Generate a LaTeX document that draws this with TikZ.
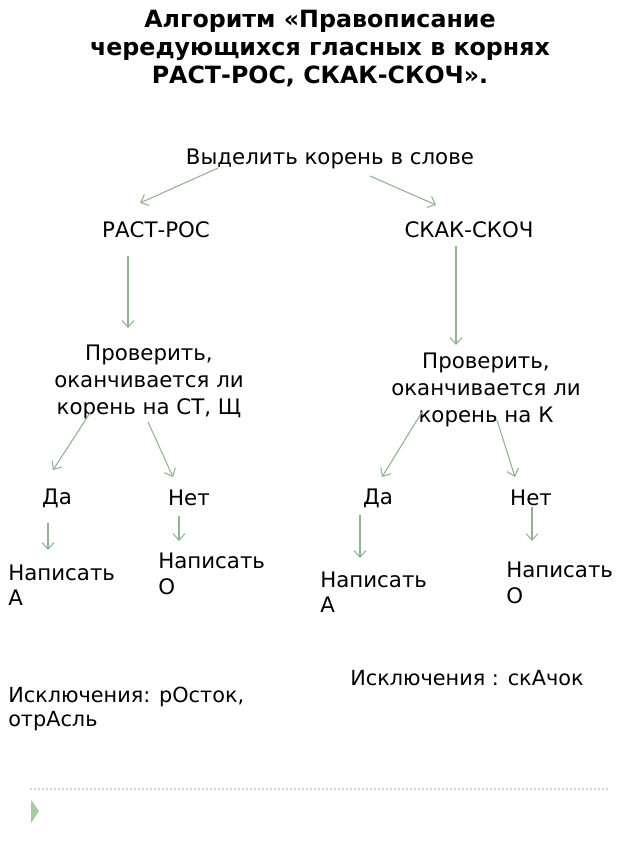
\documentclass[tikz,border=0pt]{standalone}
\usepackage{fontspec}
\setmainfont{DejaVu Sans}
\usetikzlibrary{arrows.meta}
\definecolor{arrgreen}{HTML}{8FB48F}
\definecolor{dotgreen}{HTML}{C8DCC8}
\definecolor{trigreen}{HTML}{A9C9A4}
\begin{document}
\begin{tikzpicture}[x=0.75pt,y=-0.75pt,
  txt/.style={inner sep=0pt,font=\fontsize{16}{20}\selectfont,align=center},
  txtl/.style={inner sep=0pt,font=\fontsize{16}{19}\selectfont,align=left,anchor=west},
  extxt/.style={inner sep=0pt,font=\fontsize{15.6}{18}\selectfont,align=left,anchor=west},
  arr/.style={draw=arrgreen,line width=0.8pt,-{Straight Barb[length=5pt,width=9pt]}}]
\useasboundingbox[fill=white] (0,0) rectangle (640,853);
\node[inner sep=0pt,font=\bfseries\fontsize{17.8}{21}\selectfont,align=center] (title) at (320,49)
  {Алгоритм «Правописание\\чередующихся гласных в корнях\\РАСТ-РОС, СКАК-СКОЧ».};
\node[txt] (root) at (330,159) {Выделить корень в слове};
\node[txt] (rast) at (156,230) {РАСТ-РОС};
\node[txt] (skak) at (469,230) {СКАК-СКОЧ};
\node[txt] (chk1) at (149,382) {Проверить,\\оканчивается ли\\корень на СТ, Щ};
\node[txt] (chk2) at (486,390) {Проверить,\\оканчивается ли\\корень на К};
\node[txt] (da1) at (57,498) {Да};
\node[txt] (net1) at (189,498) {Нет};
\node[txt] (da2) at (378,498) {Да};
\node[txt] (net2) at (531,498) {Нет};
\node[txtl] (wa1) at (8,585) {Написать\\А};
\node[txtl] (wo1) at (158,574) {Написать\\О};
\node[txtl] (wa2) at (320,592) {Написать\\А};
\node[txtl] (wo2) at (506,583) {Написать\\О};
\node[extxt] (ex1) at (8,709) {Исключения: рОсток,\\отрАсль};
\node[extxt] (ex2) at (350,678) {Исключения : скАчок};
% connectors
\coordinate (a1s) at (218,168); \coordinate (a1e) at (140,203);
\coordinate (a2s) at (370,176); \coordinate (a2e) at (436,205);
\draw[arr] (a1s) -- (a1e);
\draw[arr] (a2s) -- (a2e);
\coordinate (b1s) at (128,256); \coordinate (b1e) at (128,328);
\coordinate (b2s) at (456,246); \coordinate (b2e) at (456,345);
\draw[arr] (b1s) -- (b1e);
\draw[arr] (b2s) -- (b2e);
\coordinate (c1s) at (90,413); \coordinate (c1e) at (53,470);
\coordinate (c2s) at (148,422); \coordinate (c2e) at (173,477);
\coordinate (c3s) at (422,412); \coordinate (c3e) at (382,477);
\coordinate (c4s) at (497,420); \coordinate (c4e) at (515,477);
\draw[arr] (c1s) -- (c1e);
\draw[arr] (c2s) -- (c2e);
\draw[arr] (c3s) -- (c3e);
\draw[arr] (c4s) -- (c4e);
\coordinate (d1s) at (48,523); \coordinate (d1e) at (48,550);
\coordinate (d2s) at (179,516); \coordinate (d2e) at (179,541);
\coordinate (d3s) at (360,515); \coordinate (d3e) at (360,558);
\coordinate (d4s) at (532,507); \coordinate (d4e) at (532,541);
\draw[arr] (d1s) -- (d1e);
\draw[arr] (d2s) -- (d2e);
\draw[arr] (d3s) -- (d3e);
\draw[arr] (d4s) -- (d4e);
% footer
\coordinate (ls) at (30,789); \coordinate (le) at (608,789);
\draw[dotgreen,line width=0.8pt,dash pattern=on 1.5pt off 1.5pt] (ls) -- (le);
\fill[trigreen] (31,800) -- (39,811) -- (31,823) -- cycle;
\end{tikzpicture}
\end{document}
